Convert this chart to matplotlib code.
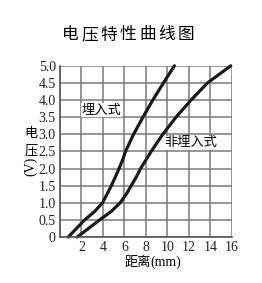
import matplotlib
matplotlib.use("Agg")
import matplotlib.pyplot as plt
from matplotlib.font_manager import FontProperties

# Voltage characteristic curves
title = "电压特性曲线图"
x_label = "距离(mm)"
y_label_chars = ["电", "压"]
y_label_unit = "(V)"

# 埋入式 (embedded)
embed_name = "埋入式"
embed_x = [0.77, 2.3, 3.24, 3.95, 4.38, 4.78, 5.15, 5.5, 5.83, 6.1, 6.85, 7.72, 8.64, 9.63, 10.65]
embed_v = [0.0, 0.5, 0.75, 1.0, 1.25, 1.5, 1.75, 2.0, 2.25, 2.5, 3.0, 3.5, 4.0, 4.5, 5.0]

# 非埋入式 (non-embedded)
free_name = "非埋入式"
free_x = [1.6, 3.7, 4.78, 5.6, 6.17, 6.63, 7.1, 7.5, 8.0, 8.49, 9.57, 10.8, 12.2, 13.73, 15.9]
free_v = [0.0, 0.5, 0.75, 1.0, 1.25, 1.5, 1.75, 2.0, 2.25, 2.5, 3.0, 3.5, 4.0, 4.5, 5.0]

x_ticks = [2, 4, 6, 8, 10, 12, 14, 16]
y_ticks = [0, 0.5, 1.0, 1.5, 2.0, 2.5, 3.0, 3.5, 4.0, 4.5, 5.0]
y_tick_labels = ["0", "0.5", "1.0", "1.5", "2.0", "2.5", "3.0", "3.5", "4.0", "4.5", "5.0"]

CJK = ["Noto Sans CJK SC", "DejaVu Sans"]
serif_fp = FontProperties(family="Liberation Serif", size=10)

fig = plt.figure(figsize=(2.62, 2.83), dpi=100)
ax = fig.add_axes([0.229, 0.1625, 0.656, 0.605])

ax.set_xlim(0, 16)
ax.set_ylim(0, 5.0)
ax.set_xticks([0] + x_ticks)
ax.set_xticklabels([""] + [str(t) for t in x_ticks], fontproperties=serif_fp)
ax.set_yticks(y_ticks)
ax.set_yticklabels(y_tick_labels, fontproperties=serif_fp)
ax.tick_params(length=0, pad=3, colors="#222222")

ax.grid(True, color="#7a7a7a", linewidth=1.1)
for side in ["top", "right"]:
    ax.spines[side].set_visible(False)
for side in ["left", "bottom"]:
    ax.spines[side].set_color("#555555")
    ax.spines[side].set_linewidth(1.2)

ax.plot(embed_x, embed_v, color="#1a1a1a", linewidth=2.3, solid_capstyle="round",
        solid_joinstyle="round", clip_on=False)
ax.plot(free_x, free_v, color="#1a1a1a", linewidth=2.3, solid_capstyle="round",
        solid_joinstyle="round", clip_on=False)

# curve labels with white boxes over the grid
ax.text(2.05, 3.7, embed_name, family=CJK, fontsize=9.5, va="center", ha="left",
        bbox=dict(facecolor="white", edgecolor="none", pad=0.5))
ax.text(9.7, 2.75, free_name, family=CJK, fontsize=9.5, va="center", ha="left",
        bbox=dict(facecolor="white", edgecolor="none", pad=0.5))

# title, spaced out one character at a time
for i, ch in enumerate(title):
    fig.text((70 + i * 19.3) / 262, 1 - 35 / 283, ch, family=CJK, fontsize=12,
             ha="center", va="center")

# vertical y label: upright characters then rotated unit
fig.text(31 / 262, 1 - 134 / 283, y_label_chars[0], family=CJK, fontsize=9.5,
         ha="center", va="center")
fig.text(31 / 262, 1 - 151 / 283, y_label_chars[1], family=CJK, fontsize=9.5,
         ha="center", va="center")
fig.text(31 / 262, 1 - 166 / 283, y_label_unit, fontproperties=serif_fp,
         ha="center", va="center", rotation=90)

fig.text(125 / 262, 1 - 262 / 283, "距离", family=CJK, fontsize=9.5,
         ha="left", va="center")
fig.text(150 / 262, 1 - 262 / 283, "(mm)", fontproperties=serif_fp,
         ha="left", va="center")

fig.savefig("out.png", dpi=100)
